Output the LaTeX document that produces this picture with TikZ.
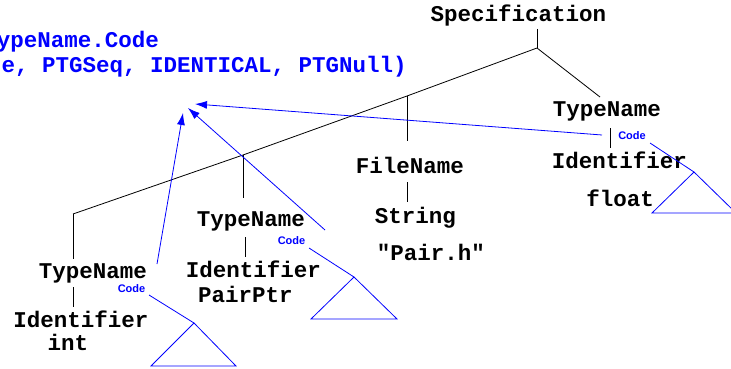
\documentclass[tikz,border=0pt]{standalone}
\usepackage{fontspec}
\setmonofont{Liberation Mono}
\setsansfont{Liberation Sans}
\usetikzlibrary{arrows.meta}
\definecolor{codeblue}{RGB}{0,0,255}
\begin{document}
\begin{tikzpicture}[x=1pt,y=-1pt,
  lbl/.style={font=\ttfamily\bfseries\fontsize{22.5}{27}\selectfont, inner sep=0pt, anchor=base},
  bluetxt/.style={lbl, text=codeblue},
  codelbl/.style={font=\sffamily\bfseries\fontsize{11}{13}\selectfont, text=codeblue, inner sep=0pt, anchor=base},
  tree/.style={line width=0.8pt, black},
  blueline/.style={line width=0.8pt, codeblue},
  bluearrow/.style={blueline, -{Latex[length=12pt,width=8pt]}}
]
\useasboundingbox (0,0) rectangle (731,369);
\clip (0,0) rectangle (731,369);

% blue attribute text
\node[bluetxt, anchor=base east] (t1) at (159,48) {TypeName.Code};
\node[bluetxt, anchor=base east] (t2) at (407,73) {(PTGNode, PTGSeq, IDENTICAL, PTGNull)};

% tree nodes
\node[lbl] (spec) at (518.5,21.5) {Specification};
\node[lbl] (tnL) at (93,278) {TypeName};
\node[lbl] (idL) at (81,327) {Identifier};
\node[lbl] (intL) at (68,350) {int};
\node[lbl] (tnM) at (251,226) {TypeName};
\node[lbl] (idM) at (253.5,277) {Identifier};
\node[lbl] (pp) at (245.5,302) {PairPtr};
\node[lbl] (fn) at (410,173) {FileName};
\node[lbl] (str) at (415.5,223) {String};
\node[lbl] (ph) at (431,260) {"Pair.h"};
\node[lbl] (tnR) at (607,117) {TypeName};
\node[lbl] (idR) at (619.5,168) {Identifier};
\node[lbl] (fl) at (620,206) {float};

% Code labels
\node[codelbl] (cL) at (131.5,292) {Code};
\node[codelbl] (cM) at (291.5,244) {Code};
\node[codelbl] (cR) at (632,139) {Code};

% tree coordinates
\coordinate (s0) at (537,29);
\coordinate (j0) at (537,48);
\coordinate (jR) at (600,97);
\coordinate (jF) at (407,96);
\coordinate (jM) at (243,155);
\coordinate (jL) at (73,214);
\coordinate (eF) at (407,141);
\coordinate (eM) at (243,198);
\coordinate (eL) at (73,259);
\coordinate (vL1) at (73,287);  \coordinate (vL2) at (73,307);
\coordinate (vM1) at (245,237); \coordinate (vM2) at (245,257);
\coordinate (vF1) at (407,182); \coordinate (vF2) at (407,202);
\coordinate (vR1) at (610,128); \coordinate (vR2) at (610,148);

% tree edges
\draw[tree] (s0) -- (j0);
\draw[tree] (j0) -- (jR);
\draw[tree] (j0) -- (jF) -- (jM) -- (jL);
\draw[tree] (jF) -- (eF);
\draw[tree] (jM) -- (eM);
\draw[tree] (jL) -- (eL);
\draw[tree] (vL1) -- (vL2);
\draw[tree] (vM1) -- (vM2);
\draw[tree] (vF1) -- (vF2);
\draw[tree] (vR1) -- (vR2);

% subtree triangles
\coordinate (cLs) at (149,295); \coordinate (aL) at (194,323);
\coordinate (bL1) at (151,366); \coordinate (bL2) at (236,366);
\coordinate (cMs) at (309,248); \coordinate (aM) at (354,277);
\coordinate (bM1) at (311,319); \coordinate (bM2) at (397,319);
\coordinate (cRs) at (650,143); \coordinate (aR) at (694,172);
\coordinate (bR1) at (652,213); \coordinate (bR2) at (736,213);
\draw[blueline] (cLs) -- (aL);
\draw[blueline] (aL) -- (bL1) -- (bL2) -- cycle;
\draw[blueline] (cMs) -- (aM);
\draw[blueline] (aM) -- (bM1) -- (bM2) -- cycle;
\draw[blueline] (cRs) -- (aR);
\draw[blueline] (aR) -- (bR1) -- (bR2) -- cycle;

% arrows to the attribute
\coordinate (sAL) at (157,264); \coordinate (tAL) at (183,113);
\coordinate (sAM) at (325,230); \coordinate (tAM) at (188,108);
\coordinate (sAR) at (602,135); \coordinate (tAR) at (195,104);
\draw[bluearrow] (sAL) -- (tAL);
\draw[bluearrow] (sAM) -- (tAM);
\draw[bluearrow] (sAR) -- (tAR);
\end{tikzpicture}
\end{document}
